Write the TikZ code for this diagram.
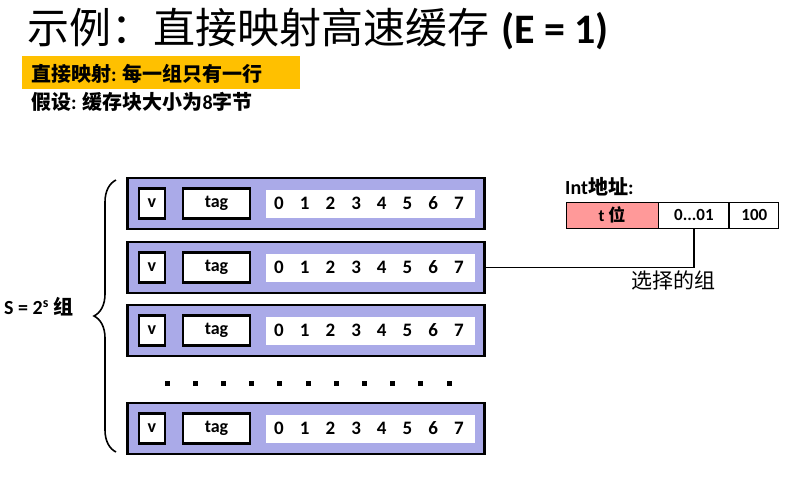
\documentclass[tikz,border=0pt]{standalone}
\usepackage{fontspec}
\setmainfont{Carlito}
\newfontfamily\cjk{Noto Sans CJK SC}
\usepackage{tikz}
\usetikzlibrary{positioning, decorations.pathreplacing}

\definecolor{rowblue}{RGB}{170,170,232}
\definecolor{tpink}{RGB}{255,153,153}
\definecolor{hilite}{RGB}{255,192,0}
\newcommand{\zh}[1]{{\cjk #1}}

\begin{document}
\begin{tikzpicture}[x=1pt, y=-1pt,
    rowbox/.style={draw, line width=2.6pt, fill=rowblue, minimum width=357pt, minimum height=51pt, inner sep=0pt},
    vbox/.style={draw, line width=2.2pt, fill=white, minimum width=26pt, minimum height=30pt, inner sep=0pt, font=\fontsize{18}{18}\selectfont\bfseries},
    tagbox/.style={vbox, minimum width=67pt},
    databox/.style={fill=white, minimum width=209pt, minimum height=28pt, inner sep=0pt},
    digit/.style={inner sep=0pt, font=\fontsize{19}{19}\selectfont\bfseries},
    addrbox/.style={draw, line width=0.9pt, minimum height=26pt, inner sep=0pt, font=\fontsize{17}{17}\selectfont\bfseries},
    dotsq/.style={fill=black, minimum size=5pt, inner sep=0pt}]
      \useasboundingbox (0,0) rectangle (792,483);

      % 1. 標題與說明
      \node[anchor=west, inner sep=0pt] (title) at (27,29)
        {\fontsize{42}{46}\selectfont\zh{示例：直接映射高速缓存}\hspace{12pt}\bfseries(E = 1)};
      \node[fill=hilite, minimum width=278pt, minimum height=33pt, inner sep=0pt] (hl) at (161,72.5) {};
      \node[anchor=west, inner sep=0pt] (note1) at (31,74)
        {\fontsize{20}{20}\selectfont\bfseries\zh{直接映射}: \zh{每一组只有一行}};
      \node[anchor=west, inner sep=0pt] (note2) at (31,102)
        {\fontsize{20}{20}\selectfont\bfseries\zh{假设}: \zh{缓存块大小为}8\zh{字节}};

      % 2. 四個組（行）
      \foreach \r/\y in {1/203.5, 2/267.5, 3/330.5, 4/428.5}{
        \node[rowbox] (row\r) at (306,\y) {};
        \node[vbox] (v\r) at (152,\y) {v};
        \node[tagbox] (tag\r) at (216.5,\y) {\raisebox{1.5pt}{tag}};
        \node[databox] (data\r) at (370.5,\y) {};
        \foreach \d in {0,...,7}
          \node[digit] (b\r\d) at ({279+25.7*\d},\y) {\d};
      }

      % 3. 省略號
      \foreach \i in {0,...,10}
        \node[dotsq] (dot\i) at ({167+28.2*\i},383) {};

      % 4. 大括號與 S
      \coordinate (brbot) at (116,452);
      \coordinate (brtop) at (116,180);
      \draw[line width=1.6pt, decorate, decoration={brace, amplitude=22pt}] (brbot) -- (brtop);
      \node[anchor=west, inner sep=0pt] (setnum) at (4,307)
        {\fontsize{20}{20}\selectfont\bfseries S = 2\textsuperscript{s} \zh{组}};

      % 5. 地址
      \node[anchor=west, inner sep=0pt] (addrlbl) at (565,187)
        {\fontsize{20}{20}\selectfont\bfseries Int\zh{地址}:};
      \node[addrbox, fill=tpink, minimum width=92pt] (addrtag) at (612,215) {t \zh{位}};
      \node[addrbox, minimum width=70pt, right=0pt of addrtag] (addrset) {0...01};
      \node[addrbox, minimum width=49pt, right=0pt of addrset] (addroff) {100};

      % 6. 選擇的組
      \draw[line width=1.5pt] (row2.east) -| (addrset.south);
      \node[inner sep=0pt] (selset) at (673,280) {\fontsize{21}{21}\selectfont\zh{选择的组}};
\end{tikzpicture}
\end{document}
